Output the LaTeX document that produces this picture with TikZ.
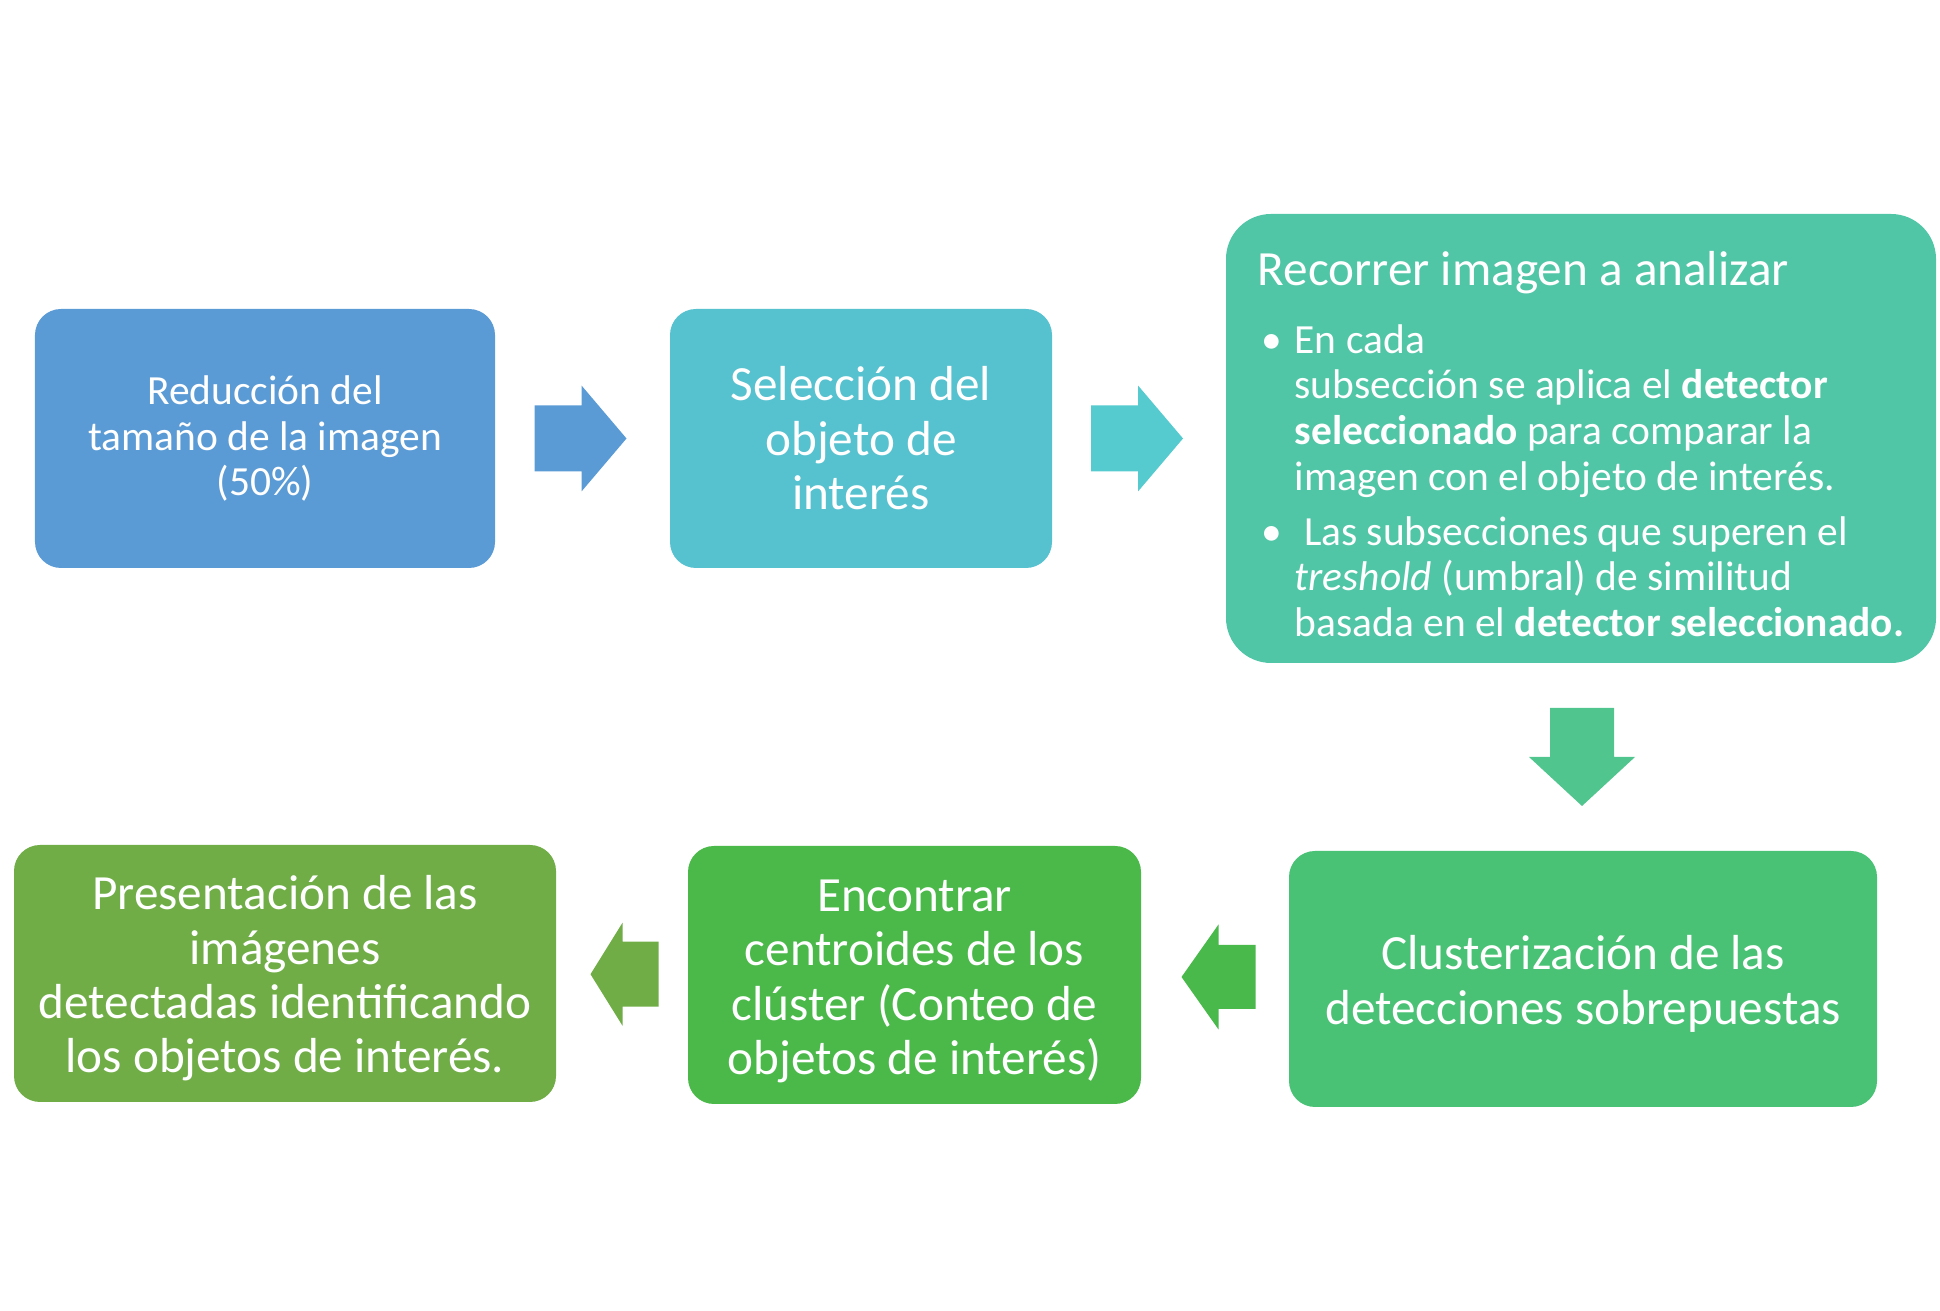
\documentclass[tikz,border=0pt]{standalone}
\usepackage{fontspec}
\setmainfont{Carlito}
\usetikzlibrary{calc}

\definecolor{stepblue}{HTML}{5B9BD5}
\definecolor{stepcyan}{HTML}{56C1CF}
\definecolor{arrowcyan}{HTML}{55CBCF}
\definecolor{stepteal}{HTML}{51C6A7}
\definecolor{arrowteal}{HTML}{50C58D}
\definecolor{stepmint}{HTML}{4AC276}
\definecolor{arrowgreen}{HTML}{4AB94B}
\definecolor{stepgreen}{HTML}{4AB94A}
\definecolor{steplime}{HTML}{70AD47}

\newcommand{\smalltext}{\fontsize{11.8}{13}\selectfont}
\newcommand{\largetext}{\fontsize{14}{15.5}\selectfont}
\newcommand{\bulletmark}{\makebox[0.37cm][l]{\hspace{0.04cm}\textbullet}}
\newcommand{\bulletgap}{\hspace*{0.37cm}}
\newcommand{\topstrut}[1]{\rule{0pt}{#1}}

\begin{document}
\begin{tikzpicture}[
        stepbox/.style={rectangle, rounded corners=0.26cm, text=white, align=center, inner sep=0pt}
    ]
        \useasboundingbox (0,0) rectangle (19.4,13.11);

        % Top row
        \node[stepbox, fill=stepblue, minimum width=4.60cm, minimum height=2.59cm, font=\smalltext] (reduce) at (2.65,8.725) {Reducción del\\tamaño de la imagen\\(50\%)};
        \node[stepbox, fill=stepcyan, minimum width=3.82cm, minimum height=2.59cm, font=\largetext] (select) at (8.61,8.725) {Selección del\\objeto de\\interés};
        \node[stepbox, fill=stepteal, rounded corners=0.45cm, minimum width=7.10cm, minimum height=4.49cm, align=left, font=\smalltext] (scan) at (15.81,8.725) {%
            {\largetext\topstrut{0.45cm}Recorrer imagen a analizar}\\[6.3pt]
            \bulletmark En cada\\
            \bulletgap subsección se aplica el \textbf{detector}\\
            \bulletgap\textbf{seleccionado} para comparar la\\
            \bulletgap imagen con el objeto de interés.\\[2.6pt]
            \bulletmark\ Las subsecciones que superen el\\
            \bulletgap\textit{treshold} (umbral) de similitud\\
            \bulletgap basada en el \textbf{detector seleccionado.}};

        % Bottom row
        \node[stepbox, fill=stepmint, minimum width=5.88cm, minimum height=2.56cm, font=\largetext] (cluster) at (15.83,3.32) {\topstrut{0.44cm}Clusterización de las\\detecciones sobrepuestas};
        \node[stepbox, fill=stepgreen, minimum width=4.53cm, minimum height=2.58cm, font=\largetext] (centroid) at (9.145,3.36) {\topstrut{0.44cm}Encontrar\\centroides de los\\clúster (Conteo de\\objetos de interés)};
        \node[stepbox, fill=steplime, minimum width=5.42cm, minimum height=2.57cm, font=\largetext] (present) at (2.85,3.375) {\topstrut{0.44cm}Presentación de las\\imágenes\\detectadas identificando\\los objetos de interés.};

        % Block arrows between the steps
        \coordinate (arrowA) at ($(reduce.east)!0.5!(select.west)$);
        \coordinate (arrowB) at ($(select.east)!0.5!(scan.west)$);
        \coordinate (arrowC) at ($(scan.south)!0.5!(cluster.north)$);
        \coordinate (arrowD) at ($(cluster.west)!0.5!(centroid.east)$);
        \coordinate (arrowE) at ($(centroid.west)!0.5!(present.east)$);

        \fill[stepblue, shift={(arrowA)}, xshift=-0.02cm] (-0.46,-0.33) -- (0.01,-0.33) -- (0.01,-0.53) -- (0.46,0) -- (0.01,0.53) -- (0.01,0.33) -- (-0.46,0.33) -- cycle;
        \fill[arrowcyan, shift={(arrowB)}, xshift=-0.02cm] (-0.46,-0.33) -- (0.01,-0.33) -- (0.01,-0.53) -- (0.46,0) -- (0.01,0.53) -- (0.01,0.33) -- (-0.46,0.33) -- cycle;
        \fill[arrowteal, shift={(arrowC)}, rotate=-90] (-0.49,-0.32) -- (0,-0.32) -- (0,-0.53) -- (0.49,0) -- (0,0.53) -- (0,0.32) -- (-0.49,0.32) -- cycle;
        \fill[arrowgreen, shift={(arrowD)}, xshift=0.035cm, rotate=180] (-0.37,-0.32) -- (0,-0.32) -- (0,-0.525) -- (0.37,0) -- (0,0.525) -- (0,0.32) -- (-0.37,0.32) -- cycle;
        \fill[steplime, shift={(arrowE)}, xshift=0.025cm, rotate=180] (-0.34,-0.325) -- (0.02,-0.325) -- (0.02,-0.515) -- (0.34,0) -- (0.02,0.515) -- (0.02,0.325) -- (-0.34,0.325) -- cycle;
    \end{tikzpicture}
\end{document}
